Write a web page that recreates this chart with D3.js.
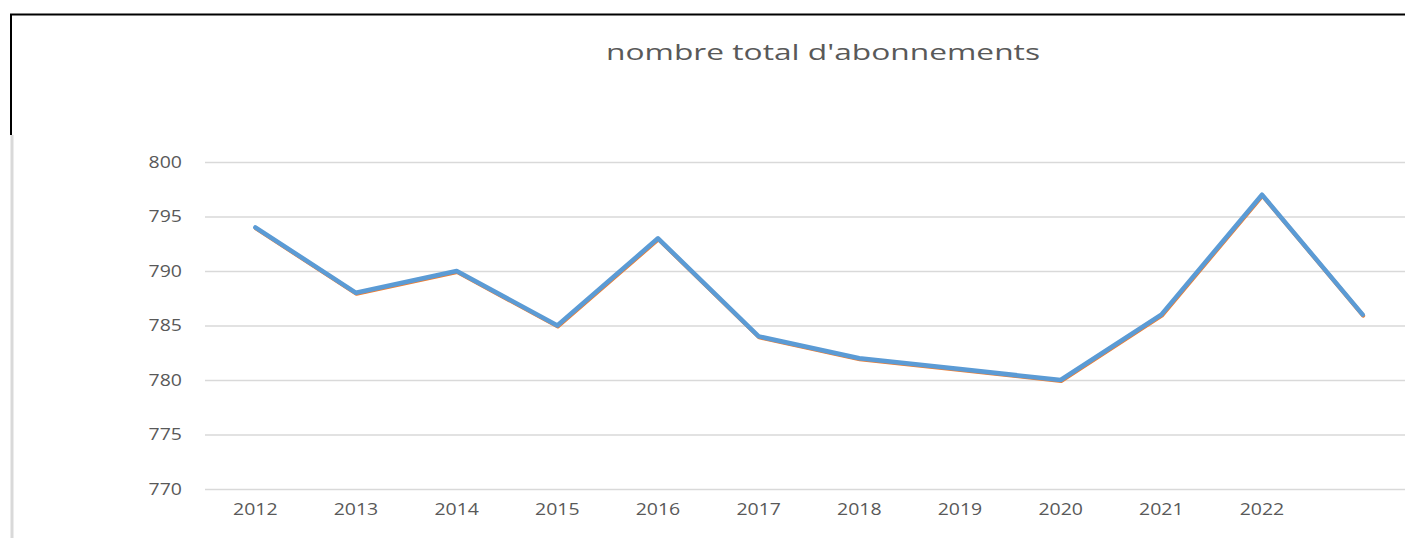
<!DOCTYPE html>
<html>
<head>
<meta charset="utf-8">
<script src="https://cdn.jsdelivr.net/npm/d3@7"></script>
<style>
  body { margin: 0; background: #fff; }
  svg { display: block; }
  text { font-family: "Open Sans", "Liberation Sans", sans-serif; fill: #595959; }
</style>
</head>
<body>
<svg id="chart" width="1405" height="538"></svg>
<script>
// --- data ---
const years = ["2012", "2013", "2014", "2015", "2016", "2017", "2018", "2019", "2020", "2021", "2022", "2023"];
const yearLabels = ["2012", "2013", "2014", "2015", "2016", "2017", "2018", "2019", "2020", "2021", "2022", ""];
const abonnements = [794, 788, 790, 785, 793, 784, 782, 781, 780, 786, 797, 786];
const abonnementsBis = [794, 788, 790, 785, 793, 784, 782, 781, 780, 786, 797, 786];
const yTicks = [770, 775, 780, 785, 790, 795, 800];
const title = "nombre total d'abonnements";

const svg = d3.select("#chart");
const width = 1405, height = 538;
const margin = { top: 162, right: -8, bottom: 49, left: 205 };

// the source text looks stretched sideways
const labelStretch = 1.18;

// frame bits from the screenshot
svg.append("line").attr("x1", 10).attr("x2", width).attr("y1", 14.5).attr("y2", 14.5)
    .attr("stroke", "#000").attr("stroke-width", 2);
svg.append("line").attr("x1", 11).attr("x2", 11).attr("y1", 14).attr("y2", 135)
    .attr("stroke", "#000").attr("stroke-width", 2);
svg.append("line").attr("x1", 12).attr("x2", 12).attr("y1", 135).attr("y2", height)
    .attr("stroke", "#d9d9d9").attr("stroke-width", 3);

const x = d3.scaleBand().domain(years).range([margin.left, width - margin.right]);
const y = d3.scaleLinear().domain([770, 800]).range([height - margin.bottom, margin.top]);

// gridlines
svg.append("g")
    .attr("transform", `translate(${margin.left},0)`)
    .call(d3.axisLeft(y).tickValues(yTicks).tickSize(-(width - margin.left)).tickFormat(""))
    .call(g => g.select(".domain").remove())
    .call(g => g.selectAll("line").attr("stroke", "#d9d9d9").attr("stroke-width", 1.5));

// y labels
svg.append("g")
    .attr("transform", `translate(182,0)`)
    .call(d3.axisLeft(y).tickValues(yTicks).tickSize(0).tickPadding(0))
    .call(g => g.select(".domain").remove())
    .call(g => g.selectAll("text").attr("font-size", 16.5).attr("fill", "#595959")
        .attr("font-family", "'Open Sans', sans-serif")
        .attr("transform", `scale(${labelStretch},1)`));

// x labels
svg.append("g")
    .attr("transform", `translate(0,${height - margin.bottom})`)
    .call(d3.axisBottom(x).tickSize(0).tickPadding(14).tickFormat((d, i) => yearLabels[i]))
    .call(g => g.select(".domain").remove())
    .call(g => g.selectAll("text").attr("font-size", 16.5).attr("fill", "#595959")
        .attr("font-family", "'Open Sans', sans-serif")
        .attr("transform", `scale(${labelStretch},1)`));

const line = d3.line()
    .x((d, i) => x(years[i]) + x.bandwidth() / 2)
    .y(d => y(d));

// orange series sits just under the blue one
svg.append("path").datum(abonnementsBis)
    .attr("d", line).attr("transform", "translate(0.5,1)")
    .attr("fill", "none").attr("stroke", "#ed7d31").attr("stroke-width", 4)
    .attr("stroke-linejoin", "round").attr("stroke-linecap", "round");
svg.append("path").datum(abonnements)
    .attr("d", line)
    .attr("fill", "none").attr("stroke", "#5b9bd5").attr("stroke-width", 4.5)
    .attr("stroke-linejoin", "round").attr("stroke-linecap", "round");

// title
svg.append("text")
    .attr("x", 823).attr("y", 60)
    .attr("text-anchor", "middle")
    .attr("font-size", 21)
    .attr("textLength", 434)
    .attr("lengthAdjust", "spacingAndGlyphs")
    .text(title);
</script>
</body>
</html>
